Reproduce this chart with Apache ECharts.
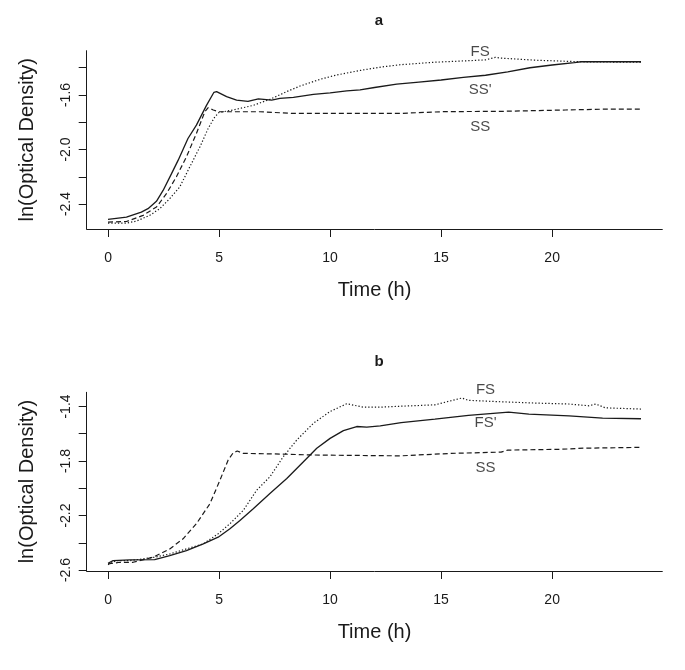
<!DOCTYPE html>
<html><head><meta charset="utf-8">
<script src="https://cdn.jsdelivr.net/npm/echarts@6/dist/echarts.min.js"></script>
<style>html,body{margin:0;padding:0;background:#fff}#c{width:685px;height:670px}</style>
</head><body><div id="c"></div>
<script>
// ---- data (time h, ln(OD)) ----
const a_SSprime = [[0,-2.513],[0.83,-2.496],[1.5,-2.459],[1.8,-2.434],[2.18,-2.38],[2.48,-2.30],[2.86,-2.177],[3.16,-2.078],[3.6,-1.919],[3.98,-1.821],[4.44,-1.674],[4.77,-1.58],[4.89,-1.575],[5.34,-1.612],[5.79,-1.637],[6.3,-1.647],[6.77,-1.629],[7.37,-1.637],[7.74,-1.625],[8.35,-1.617],[9.25,-1.595],[10,-1.585],[10.75,-1.57],[11.35,-1.563],[12,-1.545],[13,-1.52],[14,-1.505],[15,-1.49],[16,-1.47],[17,-1.455],[18,-1.43],[19,-1.40],[20,-1.38],[21,-1.362],[21.3,-1.356],[22,-1.356],[23,-1.356],[24,-1.356]];
const a_FS = [[0,-2.54],[0.83,-2.54],[1.28,-2.525],[1.88,-2.483],[2.33,-2.434],[2.78,-2.36],[3.23,-2.275],[3.68,-2.128],[4.14,-1.98],[4.51,-1.845],[4.81,-1.76],[5.0,-1.728],[5.64,-1.71],[6.54,-1.676],[7.29,-1.632],[8.05,-1.575],[8.65,-1.534],[9.55,-1.485],[10.3,-1.453],[11.35,-1.42],[12.3,-1.395],[13.15,-1.378],[14.65,-1.36],[16.16,-1.349],[17.0,-1.342],[17.44,-1.324],[17.66,-1.329],[19.16,-1.344],[20.5,-1.352],[21.26,-1.356],[24,-1.36]];
const a_SS = [[0,-2.532],[0.83,-2.528],[1.58,-2.483],[2.18,-2.422],[2.63,-2.324],[3.08,-2.2],[3.53,-2.054],[3.98,-1.882],[4.36,-1.723],[4.51,-1.693],[4.74,-1.71],[5.0,-1.723],[6.84,-1.723],[8.35,-1.735],[11.35,-1.735],[13.15,-1.735],[15.1,-1.722],[17.66,-1.72],[20.6,-1.71],[22.6,-1.703],[24,-1.703]];
const b_FSprime = [[0,-2.55],[0.23,-2.531],[0.98,-2.526],[2.1,-2.523],[2.78,-2.494],[3.53,-2.457],[4.29,-2.408],[4.96,-2.359],[5.49,-2.297],[5.94,-2.236],[6.54,-2.15],[7.29,-2.039],[8.05,-1.929],[8.8,-1.806],[9.4,-1.707],[10,-1.634],[10.6,-1.577],[11.2,-1.547],[11.65,-1.552],[12.26,-1.543],[13.2,-1.518],[14.72,-1.493],[16.23,-1.466],[18.04,-1.441],[18.95,-1.456],[20.76,-1.469],[22.27,-1.486],[24,-1.49]];
const b_FS = [[0,-2.56],[0.38,-2.531],[0.98,-2.531],[2.1,-2.506],[2.78,-2.482],[3.53,-2.445],[4.29,-2.408],[4.96,-2.334],[5.49,-2.26],[6.09,-2.162],[6.69,-2.015],[7.29,-1.916],[7.89,-1.769],[8.5,-1.646],[9.25,-1.523],[10,-1.437],[10.75,-1.38],[11.5,-1.405],[12.26,-1.405],[13.2,-1.398],[14.72,-1.388],[15.93,-1.338],[16.23,-1.355],[17.74,-1.366],[19.25,-1.375],[20.76,-1.382],[21.66,-1.395],[21.96,-1.382],[22.4,-1.41],[24,-1.419]];
const b_SS = [[0,-2.555],[0.53,-2.543],[1.13,-2.543],[2.03,-2.506],[2.78,-2.445],[3.38,-2.371],[3.98,-2.26],[4.59,-2.113],[5.04,-1.941],[5.41,-1.793],[5.64,-1.739],[5.82,-1.727],[6.09,-1.744],[7.74,-1.749],[9.25,-1.756],[12.26,-1.761],[13.2,-1.762],[15.46,-1.744],[17.7,-1.735],[18.0,-1.72],[20.4,-1.714],[21.44,-1.706],[24,-1.7]];
// curve labels [x, y, text]
const a_labels = [[16.76,-1.283,'FS'],[16.76,-1.564,"SS'"],[16.76,-1.835,'SS']];
const b_labels = [[17.0,-1.279,'FS'],[17.0,-1.521,"FS'"],[17.0,-1.851,'SS']];
// ticks
const xTicks = [0,5,10,15,20];
const a_yTicks = [-2.4,-2.2,-2.0,-1.8,-1.6,-1.4];
const a_yLabels = [-2.4,-2.0,-1.6];
const b_yTicks = [-2.6,-2.4,-2.2,-2.0,-1.8,-1.6,-1.4];
const b_yLabels = [-2.6,-2.2,-1.8,-1.4];
const panelTitles = ['a','b'];

const FONT = 'Liberation Sans, Arial, Helvetica, sans-serif';
const INK = '#1a1a1a';
const chart = echarts.init(document.getElementById('c'), null, {renderer:'canvas'});

function xAxisCfg(idx){
  return {
    type:'value', gridIndex:idx, min:-0.96, max:24.96,
    name:'Time (h)', nameLocation:'middle', nameGap:51,
    nameTextStyle:{fontFamily:FONT, fontSize:20, color:INK},
    axisLine:{show:true, onZero:false, lineStyle:{color:INK, width:1}},
    axisTick:{show:true, length:8, customValues:xTicks, lineStyle:{color:INK}},
    axisLabel:{show:true, customValues:xTicks, margin:22, fontFamily:FONT, fontSize:14, color:INK},
    splitLine:{show:false}
  };
}
function yAxisCfg(idx, min, max, ticks, labels){
  return {
    type:'value', gridIndex:idx, min:min, max:max,
    name:'ln(Optical Density)', nameLocation:'middle', nameGap:49, nameRotate:90,
    nameTextStyle:{fontFamily:FONT, fontSize:20, color:INK},
    axisLine:{show:true, onZero:false, lineStyle:{color:INK, width:1}},
    axisTick:{show:true, length:8, customValues:ticks, lineStyle:{color:INK}},
    axisLabel:{show:true, customValues:labels, rotate:90, margin:14, fontFamily:FONT, fontSize:14, color:INK,
      formatter:v=>v.toFixed(1)},
    splitLine:{show:false}
  };
}
function lineSeries(idx, data, type){
  return {type:'line', xAxisIndex:idx, yAxisIndex:idx, data:data, showSymbol:false, symbol:'none',
    lineStyle:{color:INK, width: type==='solid'?1.3:1.2, type: type==='dashed'?[5,3]:(type==='dotted'?[1.3,2]:'solid')},
    animation:false, silent:true, clip:false};
}
function labelSeries(idx, labels){
  return {type:'scatter', xAxisIndex:idx, yAxisIndex:idx, symbolSize:0, clip:false, silent:true, animation:false,
    itemStyle:{color:'rgba(0,0,0,0)'},
    data:labels.map(l=>({value:[l[0],l[1]], name:l[2]})),
    label:{show:true, position:'inside', formatter:p=>p.name, fontFamily:FONT, fontSize:15, color:INK}};
}

chart.setOption({
  backgroundColor:'#fff',
  title:[
    {text:panelTitles[0], left:374, top:8, textAlign:'center', textStyle:{fontFamily:FONT, fontSize:15, fontWeight:'bold', color:INK}},
    {text:panelTitles[1], left:374, top:349, textAlign:'center', textStyle:{fontFamily:FONT, fontSize:15, fontWeight:'bold', color:INK}}
  ],
  grid:[
    {left:86.7, right:22.7, top:50.7, bottom:441},
    {left:86.7, right:22.7, top:392.3, bottom:99}
  ],
  xAxis:[xAxisCfg(0), xAxisCfg(1)],
  yAxis:[yAxisCfg(0,-2.583,-1.275,a_yTicks,a_yLabels), yAxisCfg(1,-2.607,-1.296,b_yTicks,b_yLabels)],
  series:[
    lineSeries(0,a_SSprime,'solid'), lineSeries(0,a_FS,'dotted'), lineSeries(0,a_SS,'dashed'), labelSeries(0,a_labels),
    lineSeries(1,b_FSprime,'solid'), lineSeries(1,b_FS,'dotted'), lineSeries(1,b_SS,'dashed'), labelSeries(1,b_labels)
  ]
});
</script></body></html>
